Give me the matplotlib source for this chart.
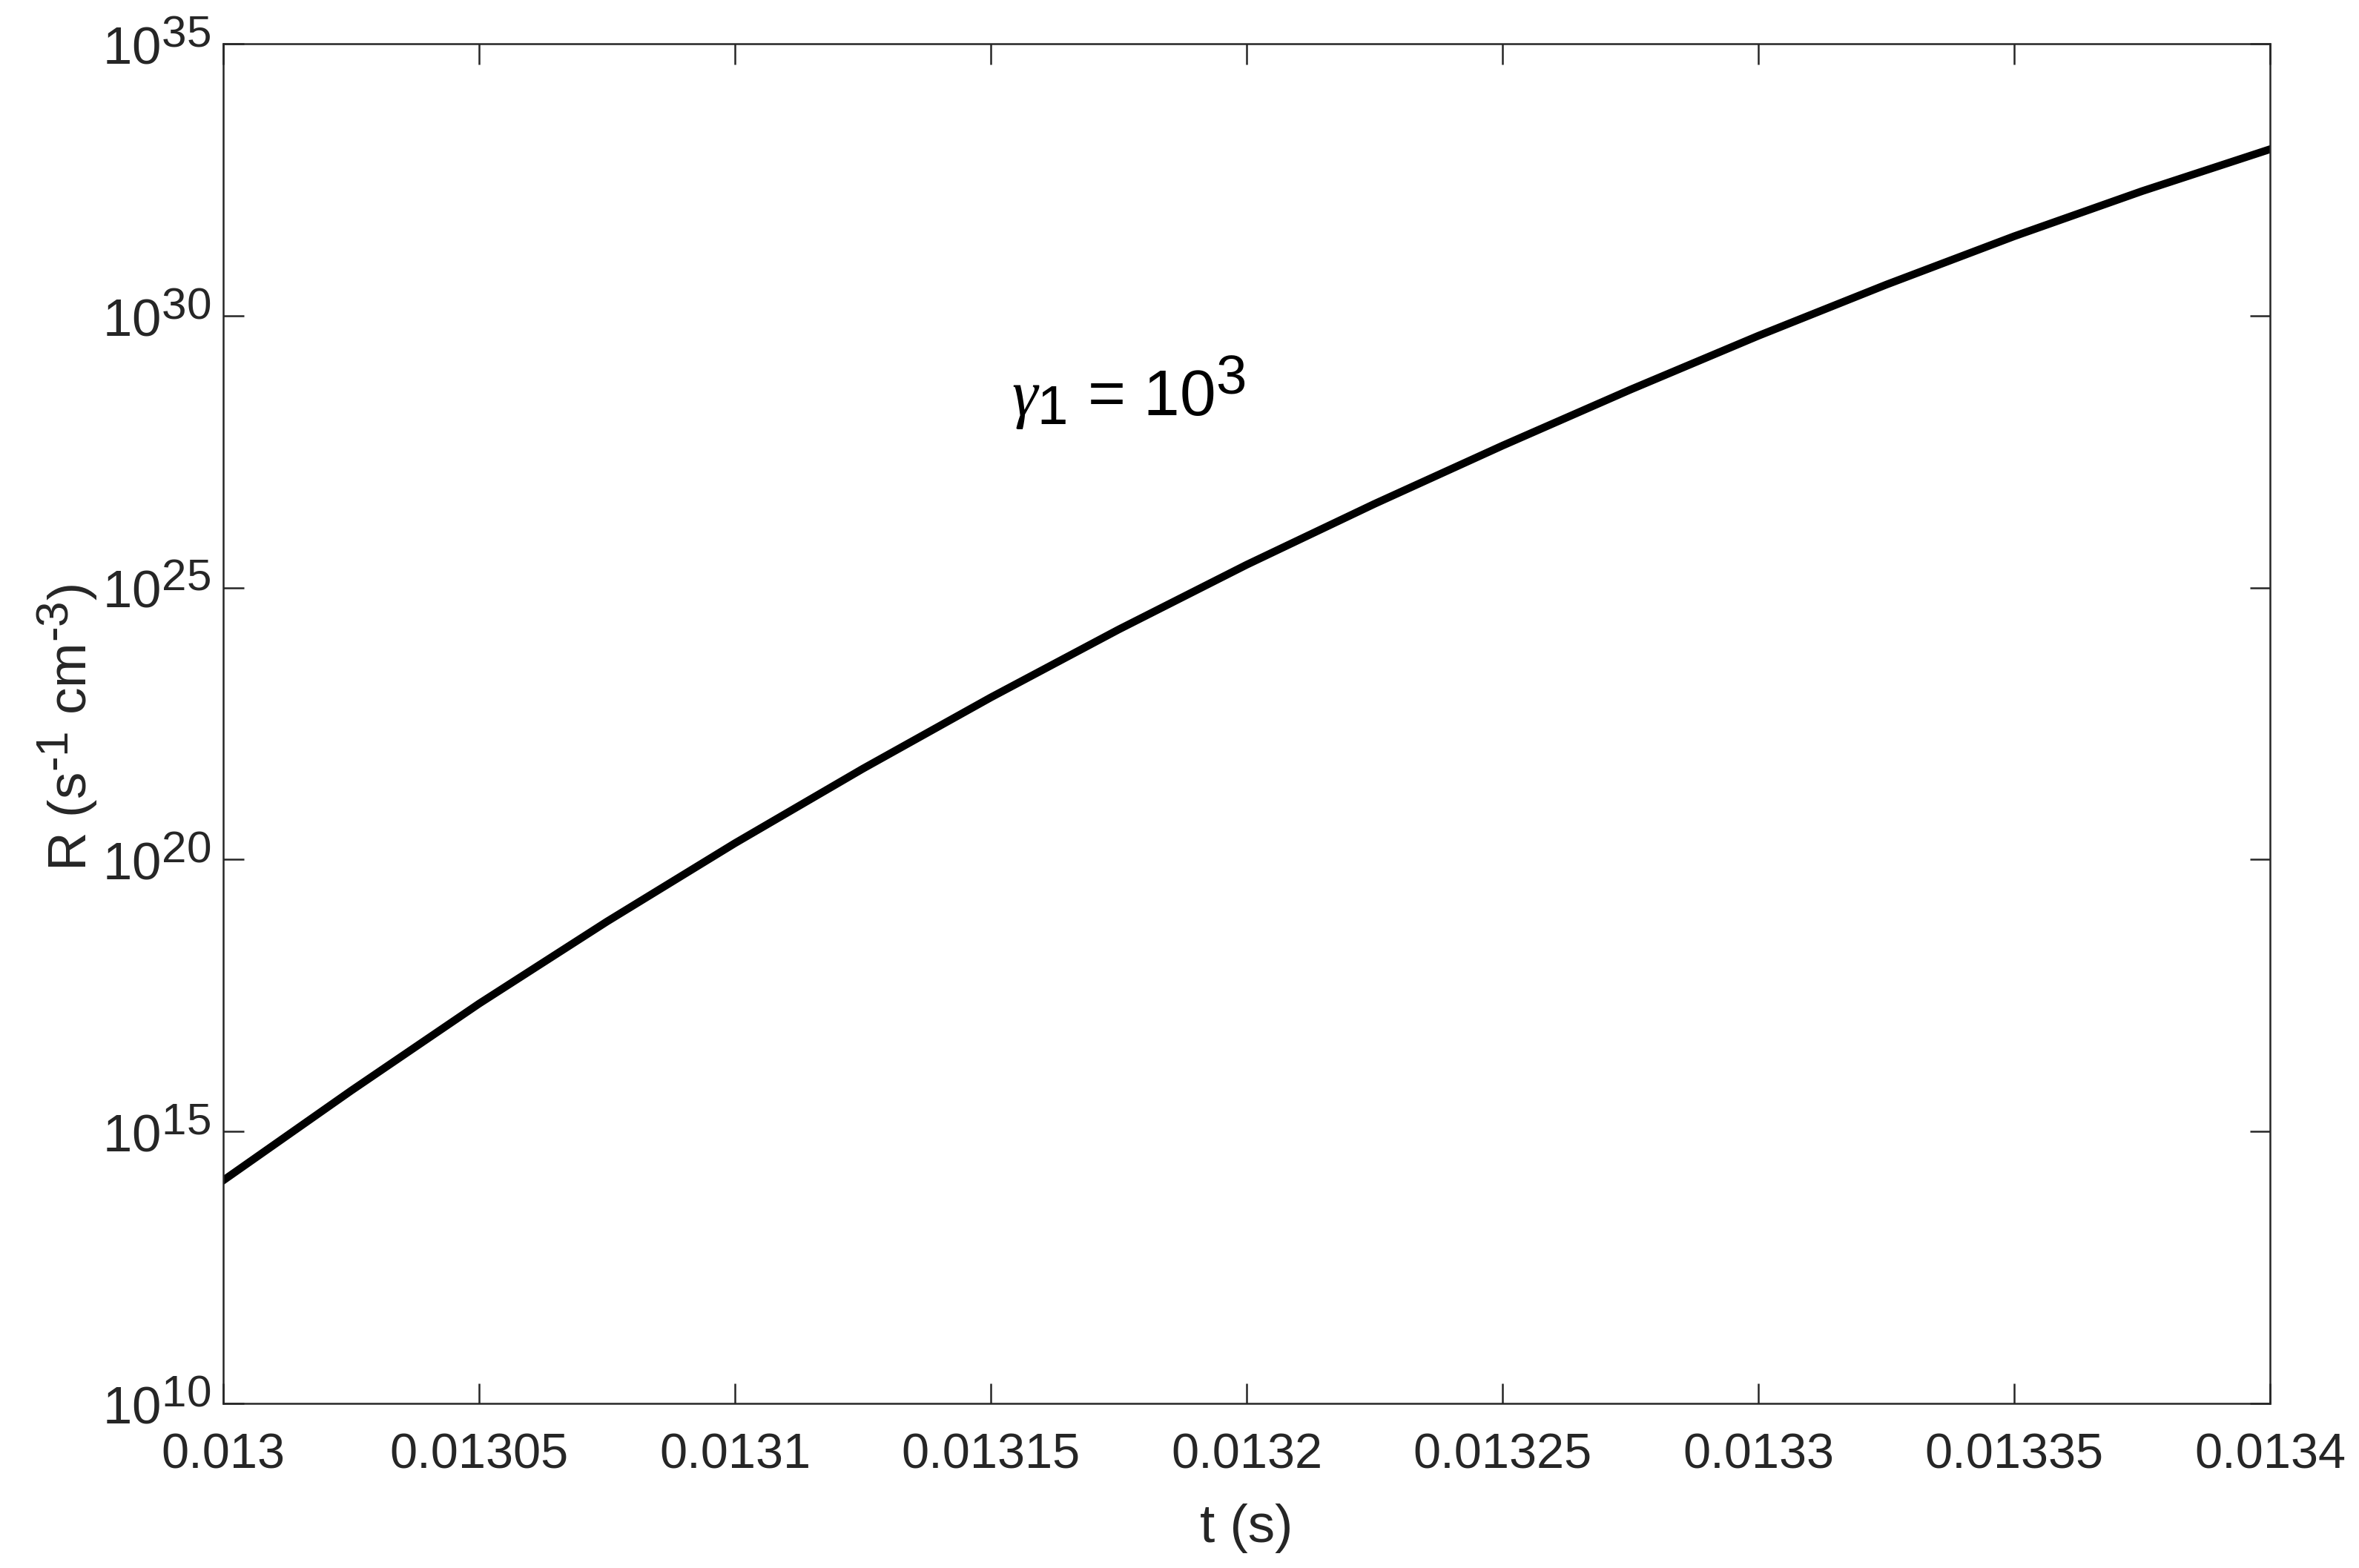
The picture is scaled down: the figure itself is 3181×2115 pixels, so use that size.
import matplotlib
matplotlib.use('Agg')
import matplotlib.pyplot as plt
import matplotlib._mathtext as mathtext_internal

# values (time in s, log10 of rate)
t_values = [0.013, 0.013025, 0.01305, 0.013075, 0.0131, 0.013125, 0.01315, 0.013175,
            0.0132, 0.013225, 0.01325, 0.013275, 0.0133, 0.013325, 0.01335, 0.013375,
            0.0134]
log_rate = [14.10, 15.75, 17.35, 18.86, 20.30, 21.67, 22.98, 24.23,
            25.42, 26.54, 27.61, 28.64, 29.63, 30.57, 31.46, 32.29,
            33.06]

x_ticks = [0.013, 0.01305, 0.0131, 0.01315, 0.0132, 0.01325, 0.0133, 0.01335, 0.0134]
x_tick_labels = ['0.013', '0.01305', '0.0131', '0.01315', '0.0132',
                 '0.01325', '0.0133', '0.01335', '0.0134']
y_exponents = [10, 15, 20, 25, 30, 35]

plt.rcParams['font.family'] = ['Liberation Sans', 'DejaVu Sans']
plt.rcParams['mathtext.fontset'] = 'custom'
plt.rcParams['mathtext.rm'] = 'Liberation Sans'
plt.rcParams['mathtext.sf'] = 'Liberation Sans'
plt.rcParams['mathtext.it'] = 'Liberation Serif:italic'
# MATLAB draws super/subscripts bigger than matplotlib does
mathtext_internal.SHRINK_FACTOR = 0.85

axis_color = '#262626'

fig = plt.figure(figsize=(3181 / 300, 2115 / 300), dpi=300)
ax = fig.add_axes([301 / 3181, 1 - 1893 / 2115, 2760 / 3181, 1834 / 2115])

rate = [10 ** v for v in log_rate]
ax.plot(t_values, rate, color='black', linewidth=2.5, solid_joinstyle='round')

ax.set_yscale('log')
ax.set_xlim(0.013, 0.0134)
ax.set_ylim(1e10, 1e35)

ax.set_xticks(x_ticks)
ax.set_xticklabels(x_tick_labels)
ax.set_yticks([10.0 ** e for e in y_exponents])
ax.set_yticklabels([r'$10^{%d}$' % e for e in y_exponents])
ax.minorticks_off()

ax.tick_params(axis='both', which='major', direction='in', length=6.6, width=0.6,
               top=True, right=True, labelsize=16, colors=axis_color)
ax.tick_params(axis='x', pad=9.5)
ax.tick_params(axis='y', pad=4, labelsize=17)
for spine in ax.spines.values():
    spine.set_color(axis_color)
    spine.set_linewidth(0.6)

ax.set_xlabel('t (s)', fontsize=17.5, color=axis_color, labelpad=8)
ax.set_ylabel(r'R (s$^{\text{-1}}$ cm$^{\text{-3}}$)', fontsize=17.5,
              color=axis_color)
ax.yaxis.set_label_coords(-0.0605, 0.497)

# annotation
ax.text(0.013154, 10 ** 28.16, r'$\gamma_1$ = 10$^3$', fontsize=21, color='black',
        va='baseline', ha='left')

fig.savefig('out.png', dpi=300)
